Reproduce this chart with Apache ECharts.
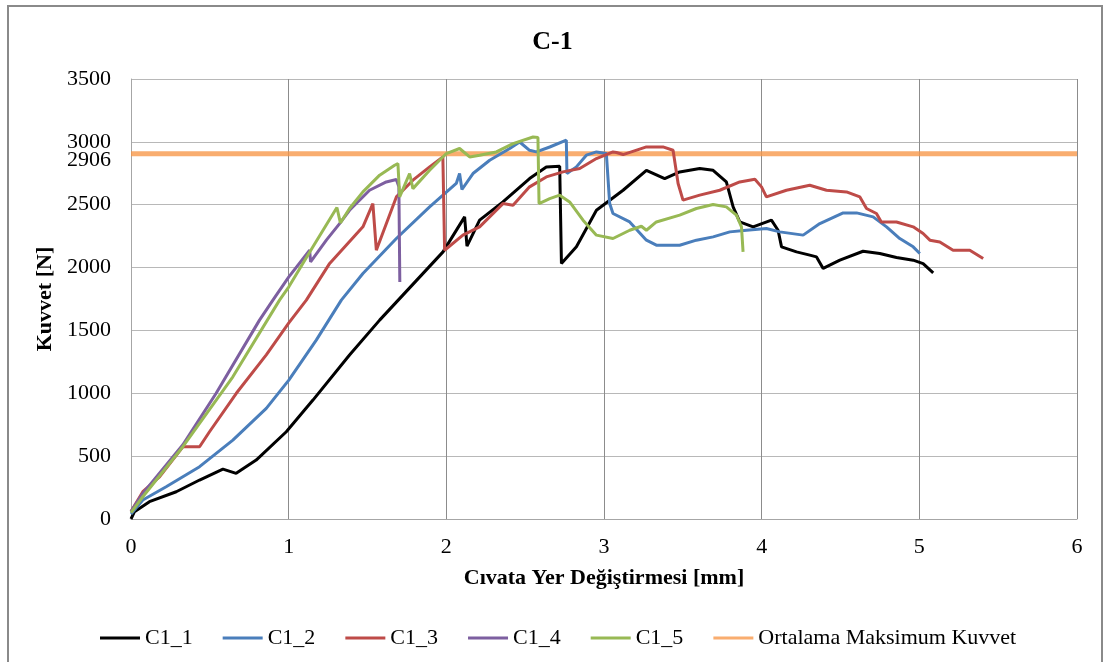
<!DOCTYPE html>
<html>
<head>
<meta charset="utf-8">
<script src="https://cdn.jsdelivr.net/npm/echarts@6/dist/echarts.min.js"></script>
<style>
  html, body { margin: 0; padding: 0; background: #fff; }
  #chart { width: 1105px; height: 662px; }
</style>
</head>
<body>
<div id="chart"></div>
<script>
// Force–displacement curves, specimen group C-1: [displacement mm, force N]
const c1_1 = [[0,0],[0.022,58],[0.117,138],[0.287,217],[0.435,310],[0.583,397],[0.667,363],[0.794,469],[0.985,694],[1.154,946],[1.386,1304],[1.577,1582],[1.979,2125],[2.116,2403],[2.131,2170],[2.211,2377],[2.359,2522],[2.528,2708],[2.634,2800],[2.719,2806],[2.730,2032],[2.825,2165],[2.952,2456],[3.121,2615],[3.269,2774],[3.385,2708],[3.480,2761],[3.607,2788],[3.692,2774],[3.776,2681],[3.819,2483],[3.861,2363],[3.946,2324],[4.062,2377],[4.104,2297],[4.126,2165],[4.221,2125],[4.305,2099],[4.348,2085],[4.390,1993],[4.496,2059],[4.643,2130],[4.749,2112],[4.855,2080],[4.961,2059],[5.024,2032],[5.088,1958]];

const c1_2 = [[0,40],[0.075,151],[0.223,257],[0.435,416],[0.646,628],[0.858,880],[1.001,1105],[1.175,1423],[1.334,1741],[1.471,1953],[1.683,2231],[1.894,2483],[2.063,2669],[2.084,2748],[2.099,2621],[2.169,2748],[2.275,2854],[2.402,2947],[2.465,2999],[2.528,2933],[2.571,2920],[2.656,2959],[2.761,3013],[2.765,2748],[2.825,2801],[2.888,2894],[2.952,2920],[3.015,2907],[3.036,2509],[3.057,2430],[3.163,2363],[3.269,2218],[3.332,2178],[3.480,2178],[3.586,2218],[3.692,2244],[3.798,2284],[3.904,2297],[4.030,2311],[4.115,2284],[4.263,2258],[4.369,2350],[4.517,2435],[4.602,2435],[4.707,2403],[4.792,2324],[4.876,2231],[4.961,2165],[5.003,2112]];

const c1_3 = [[0,60],[0.075,217],[0.181,336],[0.329,575],[0.435,575],[0.498,694],[0.668,1000],[0.858,1306],[1.001,1560],[1.112,1741],[1.260,2033],[1.471,2324],[1.534,2509],[1.556,2138],[1.683,2562],[1.788,2695],[1.894,2801],[1.978,2880],[1.989,2138],[2.105,2258],[2.211,2324],[2.359,2509],[2.423,2496],[2.528,2642],[2.634,2721],[2.740,2761],[2.846,2788],[2.952,2867],[3.057,2920],[3.079,2915],[3.121,2899],[3.269,2960],[3.374,2960],[3.438,2933],[3.470,2669],[3.501,2536],[3.607,2576],[3.734,2615],[3.861,2681],[3.957,2703],[3.999,2642],[4.030,2562],[4.157,2615],[4.305,2655],[4.411,2615],[4.538,2602],[4.623,2562],[4.665,2470],[4.728,2430],[4.759,2363],[4.855,2363],[4.961,2324],[5.024,2271],[5.067,2218],[5.130,2204],[5.214,2138],[5.320,2138],[5.405,2072]];

const c1_4 = [[0,60],[0.075,204],[0.329,590],[0.540,1000],[0.815,1582],[0.900,1741],[1.001,1926],[1.133,2138],[1.139,2045],[1.239,2218],[1.323,2350],[1.386,2456],[1.513,2615],[1.619,2681],[1.683,2700],[1.699,2642],[1.705,1886]];

const c1_5 = [[0,50],[0.075,177],[0.329,575],[0.646,1131],[0.942,1741],[1.001,1847],[1.154,2165],[1.306,2478],[1.328,2355],[1.386,2470],[1.471,2602],[1.577,2735],[1.672,2814],[1.693,2827],[1.704,2562],[1.767,2748],[1.788,2628],[1.894,2774],[2.000,2907],[2.084,2947],[2.148,2880],[2.211,2894],[2.317,2920],[2.423,2986],[2.550,3039],[2.581,3034],[2.588,2509],[2.656,2549],[2.719,2576],[2.782,2522],[2.867,2377],[2.952,2258],[3.057,2231],[3.163,2297],[3.237,2329],[3.269,2297],[3.332,2363],[3.480,2417],[3.586,2470],[3.692,2502],[3.776,2483],[3.840,2417],[3.872,2324],[3.882,2125]];

// Average maximum force across the five specimens
const meanMaxForce = 2906;
const meanLine = [[0, meanMaxForce], [6, meanMaxForce]];

const seriesNames = ['C1_1', 'C1_2', 'C1_3', 'C1_4', 'C1_5', 'Ortalama Maksimum Kuvvet'];
const seriesColors = ['#000000', '#4A7EBB', '#BE4B48', '#7D5FA0', '#98B954', '#F79646'];
const seriesData = [c1_1, c1_2, c1_3, c1_4, c1_5, meanLine];

const xTicks = { min: 0, max: 6, step: 1 };
const yTicks = { min: 0, max: 3500, step: 500 };

const FONT = "'Liberation Serif', 'Times New Roman', serif";

const chart = echarts.init(document.getElementById('chart'), null, { renderer: 'canvas' });

const series = seriesData.map((d, i) => ({
  name: seriesNames[i],
  type: 'line',
  data: d,
  showSymbol: false,
  symbol: 'none',
  smooth: false,
  xAxisIndex: 0,
  yAxisIndex: 0,
  lineStyle: {
    color: seriesColors[i],
    width: i === 5 ? 5 : 3,
    opacity: i === 5 ? 0.78 : 1
  },
  itemStyle: { color: seriesColors[i], opacity: i === 5 ? 0.78 : 1 },
  z: i === 5 ? 1 : 2 + i,
  animation: false
}));

chart.setOption({
  animation: false,
  backgroundColor: '#ffffff',
  title: {
    text: 'C-1',
    left: 'center',
    top: 24,
    textStyle: { fontFamily: FONT, fontSize: 26, fontWeight: 'bold', color: '#000' }
  },
  graphic: [{
    type: 'rect',
    shape: { x: 8, y: 6, width: 1094, height: 670 },
    style: { fill: 'none', stroke: '#8a8a8a', lineWidth: 2 },
    silent: true
  }],
  grid: { left: 131, top: 79, width: 946, height: 440, containLabel: false },
  legend: {
    data: seriesNames,
    left: 95,
    top: 622,
    itemWidth: 40,
    itemHeight: 3,
    itemGap: 30,
    icon: 'rect',
    textStyle: { fontFamily: FONT, fontSize: 22, color: '#000' }
  },
  xAxis: {
    type: 'value',
    min: xTicks.min,
    max: xTicks.max,
    interval: xTicks.step,
    name: 'Cıvata Yer Değiştirmesi [mm]',
    nameLocation: 'middle',
    nameGap: 48,
    nameTextStyle: { fontFamily: FONT, fontSize: 22, fontWeight: 'bold', color: '#000' },
    axisLine: { show: true, lineStyle: { color: '#a6a6a6', width: 1 } },
    axisTick: { show: false },
    axisLabel: { fontFamily: FONT, fontSize: 22, color: '#000', margin: 17, formatter: v => String(v) },
    splitLine: { show: true, lineStyle: { color: '#8c8c8c', width: 1 } }
  },
  yAxis: [{
    type: 'value',
    min: yTicks.min,
    max: yTicks.max,
    interval: yTicks.step,
    name: 'Kuvvet [N]',
    nameLocation: 'middle',
    nameGap: 59,
    nameTextStyle: { fontFamily: FONT, fontSize: 22, fontWeight: 'bold', color: '#000' },
    axisLine: { show: true, lineStyle: { color: '#a6a6a6', width: 1 } },
    axisTick: { show: false },
    axisLabel: { fontFamily: FONT, fontSize: 22, color: '#000', margin: 20, formatter: v => String(v) },
    splitLine: { show: true, lineStyle: { color: '#b8b8b8', width: 1 } }
  }, {
    // extra tick label marking the average maximum force
    type: 'value',
    position: 'left',
    min: 0,
    max: yTicks.max,
    interval: meanMaxForce,
    axisLine: { show: false },
    axisTick: { show: false },
    splitLine: { show: false },
    axisLabel: {
      fontFamily: FONT, fontSize: 22, color: '#000', margin: 20,
      verticalAlign: 'top',
      lineHeight: 13,
      showMaxLabel: false,
      formatter: v => (v === meanMaxForce ? String(meanMaxForce) : '')
    }
  }],
  series: series
});
</script>
</body>
</html>
